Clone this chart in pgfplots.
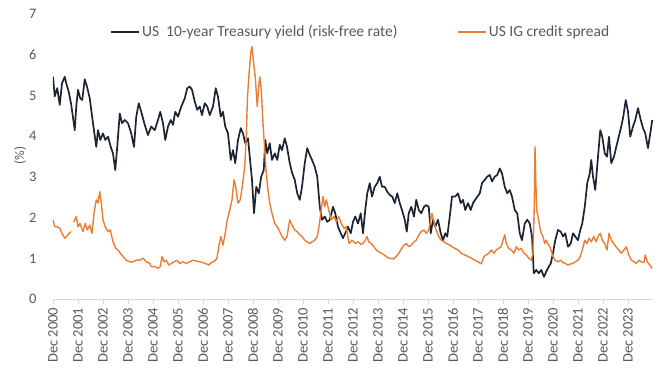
\documentclass[border=0pt]{standalone}
\usepackage{fontspec}
\setmainfont{Carlito}
\usepackage{pgfplots}
\pgfplotsset{compat=1.18}
\definecolor{navy}{HTML}{1C2333}
\definecolor{orng}{HTML}{ED7D31}
\definecolor{txt}{HTML}{595959}
\definecolor{axl}{HTML}{D9D9D9}
\begin{document}
\begin{tikzpicture}
\begin{axis}[
  scale only axis, width=600pt, height=285.3pt,
  xmin=0, xmax=24, ymin=0, ymax=7,
  axis x line=bottom, axis y line=left,
  axis line style={-},
  x axis line style={axl, line width=0.8pt},
  y axis line style={draw=none},
  xtick={0,...,23},
  xticklabels={Dec 2000,Dec 2001,Dec 2002,Dec 2003,Dec 2004,Dec 2005,Dec 2006,Dec 2007,Dec 2008,Dec 2009,Dec 2010,Dec 2011,Dec 2012,Dec 2013,Dec 2014,Dec 2015,Dec 2016,Dec 2017,Dec 2018,Dec 2019,Dec 2020,Dec 2021,Dec 2022,Dec 2023},
  ytick={0,1,2,3,4,5,6,7},
  major tick length=5pt,
  tick align=outside,
  xtick style={axl, line width=0.8pt},
  ytick style={draw=none},
  xticklabel style={rotate=90, anchor=east, font=\fontsize{14.5}{16}\selectfont, text=txt},
  yticklabel style={font=\fontsize{14.5}{16}\selectfont, text=txt, xshift=-8pt},
  /pgf/number format/assume math mode=true,
  ylabel={(\%)},
  ylabel style={at={(axis description cs:-0.055,0.505)}, anchor=center, font=\fontsize{13.5}{16}\selectfont, text=txt},
  legend style={at={(rel axis cs:0.513,0.937)}, anchor=center, draw=none, fill=none,
    font=\fontsize{15.5}{18}\selectfont, text=txt,
    /tikz/every even column/.append style={column sep=58pt}},
  legend columns=2,
  legend image code/.code={\draw[#1] (0pt,0pt) -- (28pt,0pt);},
  unbounded coords=jump,
]
\coordinate (sw) at (rel axis cs:0,0);
\coordinate (ne) at (rel axis cs:1,1);
\addplot[navy, line width=1.7pt, line join=round] coordinates {
(0,5.46)(0.07,4.98)(0.17,5.18)(0.27,4.77)(0.36,5.30)(0.47,5.46)(0.53,5.30)(0.63,5.09)(0.73,4.77)(0.87,4.15)(0.93,4.73)
(1.0,5.14)(1.09,4.93)(1.17,4.89)(1.27,5.40)(1.36,5.22)(1.47,4.93)(1.6,4.32)(1.73,3.74)(1.8,4.15)(1.89,3.91)
(2.0,4.07)(2.09,3.91)(2.2,3.99)(2.31,3.74)(2.4,3.58)(2.49,3.17)(2.57,3.74)(2.67,4.56)(2.76,4.32)(2.87,4.40)
(3.0,4.32)(3.13,4.07)(3.24,3.74)(3.33,4.48)(3.43,4.81)(3.53,4.60)(3.67,4.28)(3.8,4.03)(3.93,4.24)
(4.07,4.15)(4.2,4.40)(4.29,4.60)(4.4,4.32)(4.49,3.91)(4.6,4.24)(4.71,4.40)(4.8,4.28)(4.89,4.60)
(5.0,4.48)(5.13,4.73)(5.27,4.93)(5.37,5.18)(5.47,5.22)(5.56,5.14)(5.67,4.85)(5.77,4.65)(5.87,4.73)(5.96,4.52)
(6.07,4.81)(6.17,4.73)(6.27,4.52)(6.4,4.73)(6.51,5.18)(6.6,4.97)(6.71,4.48)(6.8,4.60)(6.89,4.24)
(7.0,4.07)(7.11,3.42)(7.2,3.66)(7.29,3.34)(7.4,3.91)(7.51,4.20)(7.6,4.07)(7.69,3.83)(7.8,3.95)(7.87,3.50)(7.96,2.93)
(8.04,2.11)(8.13,2.76)(8.23,2.60)(8.33,3.01)(8.43,3.17)(8.49,3.91)(8.57,3.58)(8.67,3.83)(8.76,3.42)(8.87,3.58)(8.97,3.42)
(9.07,3.79)(9.16,3.66)(9.27,3.95)(9.36,3.74)(9.47,3.34)(9.57,3.09)(9.67,2.93)(9.77,2.60)(9.87,2.44)(9.96,2.76)
(10.07,3.34)(10.17,3.71)(10.27,3.54)(10.36,3.42)(10.47,3.25)(10.57,3.01)(10.67,2.27)(10.76,1.95)(10.87,2.03)(10.97,1.90)
(11.07,1.95)(11.2,2.27)(11.29,2.11)(11.4,1.78)(11.51,1.62)(11.6,1.50)(11.69,1.62)(11.8,1.78)(11.91,1.62)
(12.0,1.90)(12.09,2.03)(12.2,1.86)(12.31,2.11)(12.4,1.62)(12.49,2.19)(12.57,2.60)(12.67,2.85)(12.76,2.52)(12.87,2.76)(12.97,2.85)
(13.07,3.01)(13.16,2.76)(13.27,2.76)(13.37,2.64)(13.47,2.56)(13.57,2.52)(13.67,2.36)(13.77,2.60)(13.87,2.36)(13.96,2.19)
(14.07,1.95)(14.15,1.66)(14.23,2.11)(14.33,2.27)(14.44,2.03)(14.53,2.44)(14.63,2.19)(14.73,2.11)(14.84,2.27)(14.93,2.31)
(15.03,2.27)(15.11,1.62)(15.2,1.95)(15.29,1.78)(15.4,1.95)(15.51,1.62)(15.6,1.45)(15.69,1.62)(15.77,1.54)(15.87,2.03)(15.96,2.52)
(16.09,2.52)(16.2,2.60)(16.31,2.36)(16.4,2.44)(16.49,2.19)(16.6,2.36)(16.71,2.19)(16.8,2.36)(16.93,2.48)
(17.07,2.60)(17.16,2.85)(17.27,2.93)(17.37,3.01)(17.47,3.05)(17.56,2.89)(17.67,3.01)(17.77,3.05)(17.87,3.21)(17.96,3.09)
(18.07,2.76)(18.17,2.60)(18.27,2.68)(18.36,2.52)(18.47,2.19)(18.57,2.11)(18.67,1.62)(18.76,1.45)(18.87,1.86)(18.97,1.95)
(19.07,1.86)(19.16,1.54)(19.23,0.64)(19.33,0.72)(19.43,0.64)(19.53,0.72)(19.64,0.55)(19.73,0.68)(19.83,0.80)(19.91,0.88)
(20.0,1.13)(20.09,1.45)(20.2,1.70)(20.31,1.66)(20.4,1.54)(20.49,1.62)(20.6,1.29)(20.71,1.37)(20.8,1.62)(20.89,1.54)
(21.0,1.45)(21.09,1.70)(21.17,1.86)(21.27,2.27)(21.37,2.85)(21.47,3.09)(21.53,3.42)(21.6,3.01)(21.69,2.68)(21.8,3.50)(21.89,4.15)(21.97,3.99)
(22.07,3.58)(22.16,3.50)(22.24,3.99)(22.33,3.34)(22.44,3.50)(22.53,3.74)(22.63,3.99)(22.73,4.24)(22.81,4.48)(22.91,4.89)
(23.0,4.60)(23.09,3.99)(23.2,4.24)(23.29,4.40)(23.4,4.69)(23.51,4.40)(23.6,4.20)(23.69,4.07)(23.8,3.71)(23.89,4.07)(23.97,4.40)
};
\addlegendentry{US\ \ 10-year Treasury yield (risk-free rate)}
\addplot[orng, line width=1.4pt, line join=round] coordinates {
(0,1.95)(0.07,1.78)(0.17,1.78)(0.27,1.74)(0.36,1.62)(0.47,1.50)(0.55,1.54)(0.64,1.62)(0.72,1.66)(0.78,nan)
(0.83,1.90)(0.93,2.03)(1.0,1.78)(1.08,1.86)(1.2,1.66)(1.29,1.86)(1.37,1.70)(1.47,1.82)(1.56,1.62)(1.64,2.11)(1.73,2.44)(1.8,2.36)(1.87,2.64)(1.93,2.36)
(2.0,1.95)(2.09,1.78)(2.2,1.66)(2.29,1.70)(2.4,1.41)(2.51,1.25)(2.6,1.21)(2.69,1.13)(2.8,1.05)(2.93,0.96)
(3.07,0.92)(3.2,0.92)(3.33,0.96)(3.47,0.96)(3.6,1.01)(3.73,0.92)(3.87,0.88)(3.93,0.80)
(4.07,0.80)(4.2,0.76)(4.29,0.80)(4.36,1.05)(4.44,0.92)(4.53,0.96)(4.63,0.84)(4.73,0.88)(4.84,0.92)(4.95,0.96)
(5.07,0.88)(5.2,0.92)(5.33,0.88)(5.47,0.92)(5.6,0.96)(5.73,0.94)(5.87,0.92)
(6.0,0.90)(6.13,0.87)(6.23,0.84)(6.33,0.90)(6.47,0.94)(6.56,1.01)(6.63,1.29)(6.71,1.54)(6.8,1.33)(6.89,1.62)(6.97,1.95)
(7.07,2.19)(7.16,2.44)(7.24,2.93)(7.31,2.76)(7.4,2.36)(7.49,2.44)(7.57,2.76)(7.67,3.25)(7.73,4.0)(7.78,4.97)(7.85,5.6)(7.91,6.04)(7.96,6.2)
(8.04,5.71)(8.09,5.46)(8.17,4.73)(8.23,5.2)(8.27,5.46)(8.33,5.14)(8.4,4.32)(8.47,3.66)(8.53,3.09)(8.6,2.68)(8.67,2.36)(8.76,2.11)(8.87,1.86)(8.97,1.78)
(9.07,1.66)(9.16,1.54)(9.27,1.45)(9.36,1.54)(9.47,1.95)(9.56,1.82)(9.67,1.70)(9.77,1.66)(9.87,1.58)(9.96,1.54)
(10.07,1.45)(10.17,1.41)(10.27,1.37)(10.36,1.41)(10.47,1.45)(10.57,1.54)(10.64,1.78)(10.71,2.11)(10.8,2.52)(10.87,2.27)(10.93,2.44)
(11.03,2.19)(11.13,1.95)(11.24,2.03)(11.33,1.90)(11.43,2.03)(11.53,1.86)(11.64,1.74)(11.73,1.78)(11.84,1.37)(11.96,1.45)
(12.09,1.37)(12.2,1.41)(12.31,1.35)(12.4,1.37)(12.49,1.45)(12.56,1.54)(12.63,1.41)(12.73,1.37)(12.84,1.29)(12.93,1.21)
(13.03,1.17)(13.13,1.13)(13.24,1.09)(13.33,1.05)(13.43,1.01)(13.53,1.0)(13.63,0.99)(13.73,1.05)(13.83,1.13)(13.93,1.23)
(14.04,1.33)(14.13,1.37)(14.23,1.29)(14.33,1.33)(14.44,1.41)(14.53,1.45)(14.63,1.58)(14.73,1.66)(14.84,1.70)(14.93,1.62)
(15.03,1.70)(15.11,1.95)(15.16,2.11)(15.24,1.90)(15.33,1.70)(15.43,1.54)(15.53,1.45)(15.64,1.41)(15.73,1.37)(15.87,1.33)(15.96,1.29)
(16.07,1.25)(16.2,1.21)(16.33,1.13)(16.47,1.09)(16.6,1.05)(16.73,1.01)(16.87,0.96)
(17.0,0.92)(17.13,0.87)(17.24,1.05)(17.33,1.09)(17.43,1.13)(17.53,1.21)(17.64,1.13)(17.73,1.21)(17.83,1.25)(17.93,1.29)
(18.0,1.45)(18.07,1.58)(18.13,1.37)(18.23,1.25)(18.33,1.21)(18.44,1.13)(18.53,1.29)(18.63,1.21)(18.73,1.25)(18.84,1.13)(18.93,1.09)
(19.03,1.01)(19.13,0.96)(19.2,1.13)(19.25,2.27)(19.28,3.74)(19.31,2.93)(19.35,2.19)(19.4,2.03)(19.47,1.78)(19.53,1.62)(19.6,1.54)(19.67,1.37)(19.73,1.45)(19.8,1.35)(19.87,1.29)(19.96,1.13)
(20.0,1.05)(20.09,0.96)(20.2,0.92)(20.31,0.96)(20.4,0.90)(20.49,0.88)(20.6,0.84)(20.71,0.87)(20.8,0.88)(20.89,0.92)
(21.0,0.96)(21.09,1.05)(21.17,1.21)(21.27,1.45)(21.36,1.37)(21.44,1.50)(21.53,1.41)(21.63,1.54)(21.72,1.41)(21.8,1.54)(21.89,1.62)(21.97,1.45)
(22.07,1.37)(22.16,1.21)(22.24,1.62)(22.33,1.45)(22.43,1.37)(22.52,1.29)(22.63,1.21)(22.73,1.13)(22.84,1.21)(22.93,1.29)
(23.03,1.09)(23.13,0.96)(23.24,0.92)(23.33,0.88)(23.43,0.96)(23.53,0.92)(23.64,0.90)(23.69,1.09)(23.77,0.92)(23.87,0.84)(23.97,0.76)
};
\addlegendentry{US IG credit spread}
\end{axis}
\pgfresetboundingbox
\path[use as bounding box] ([xshift=-53pt,yshift=-74.7pt]sw) rectangle ([xshift=7pt,yshift=14pt]ne);
\end{tikzpicture}
\end{document}
